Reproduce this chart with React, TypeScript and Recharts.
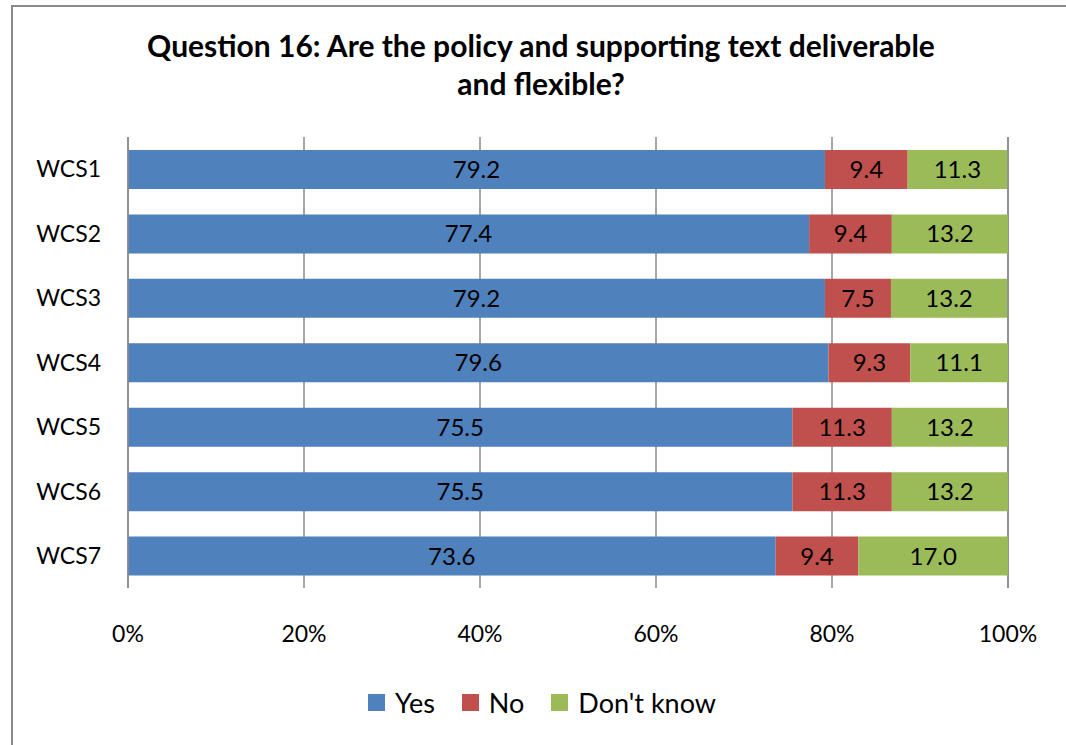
import React from 'react'
import { BarChart, Bar, XAxis, YAxis, CartesianGrid, LabelList } from 'recharts'

const categories = ['WCS1', 'WCS2', 'WCS3', 'WCS4', 'WCS5', 'WCS6', 'WCS7']
const yesValues = [79.2, 77.4, 79.2, 79.6, 75.5, 75.5, 73.6]
const noValues = [9.4, 9.4, 7.5, 9.3, 11.3, 11.3, 9.4]
const dontKnowValues = [11.3, 13.2, 13.2, 11.1, 13.2, 13.2, 17.0]
const xTicks = [0, 20, 40, 60, 80, 100]

const seriesList = [
  { key: 'yes', name: 'Yes', color: '#4F81BD' },
  { key: 'no', name: 'No', color: '#C0504D' },
  { key: 'dontKnow', name: "Don't know", color: '#9BBB59' },
]

const chartData = categories.map((cat, i) => ({
  category: cat,
  yes: yesValues[i],
  no: noValues[i],
  dontKnow: dontKnowValues[i],
}))

const FONT = 'Lato, "Open Sans", sans-serif'
const GRID = '#8a8a8a'

export default function App() {
  return (
    <div
      style={{
        position: 'absolute',
        left: 0,
        top: 0,
        width: 1066,
        height: 745,
        overflow: 'hidden',
        background: '#fff',
        fontFamily: FONT,
      }}
    >
      <div
        style={{
          position: 'absolute',
          left: 11,
          top: 5,
          width: 1100,
          height: 800,
          border: `2px solid ${GRID}`,
        }}
      />
      <div
        style={{
          position: 'absolute',
          left: 91,
          top: 26,
          width: 900,
          textAlign: 'center',
          fontWeight: 700,
          fontSize: 30,
          lineHeight: '38px',
          color: '#000',
        }}
      >
        Question 16: Are the policy and supporting text deliverable
        <br />
        and flexible?
      </div>

      <div style={{ position: 'absolute', left: 0, top: 0 }}>
        <BarChart
          width={1066}
          height={745}
          data={chartData}
          layout="vertical"
          margin={{ top: 137, right: 58, left: 28, bottom: 117 }}
        >
          <CartesianGrid horizontal={false} stroke={GRID} strokeWidth={1.5} />
          <XAxis
            type="number"
            domain={[0, 100]}
            ticks={xTicks}
            tickFormatter={(v: number) => `${v}%`}
            axisLine={false}
            tickLine={false}
            tickSize={0}
            tickMargin={38}
            height={40}
            interval={0}
            tick={{ fill: '#000', fontSize: 23, fontFamily: FONT }}
          />
          <YAxis
            type="category"
            dataKey="category"
            width={100}
            axisLine={{ stroke: GRID, strokeWidth: 1.5 }}
            tickLine={false}
            tickSize={0}
            tickMargin={27}
            interval={0}
            tick={{ fill: '#000', fontSize: 23, fontFamily: FONT }}
          />
          {seriesList.map((s) => (
            <Bar
              key={s.key}
              dataKey={s.key}
              name={s.name}
              stackId="total"
              fill={s.color}
              barSize={39}
              isAnimationActive={false}
            >
              <LabelList
                dataKey={s.key}
                position="center"
                formatter={(v: number) => v.toFixed(1)}
                fill="#000"
                fontSize={24}
                fontFamily={FONT}
              />
            </Bar>
          ))}
        </BarChart>
      </div>

      <div
        style={{
          position: 'absolute',
          left: 0,
          top: 689,
          width: 1084,
          display: 'flex',
          justifyContent: 'center',
          alignItems: 'center',
          fontSize: 27,
          lineHeight: '27px',
          color: '#000',
        }}
      >
        {seriesList.map((s, i) => (
          <div
            key={s.key}
            style={{ display: 'flex', alignItems: 'center', marginLeft: i === 0 ? 0 : 27 }}
          >
            <span style={{ width: 17, height: 17, background: s.color, marginRight: 10 }} />
            <span>{s.name}</span>
          </div>
        ))}
      </div>
    </div>
  )
}
